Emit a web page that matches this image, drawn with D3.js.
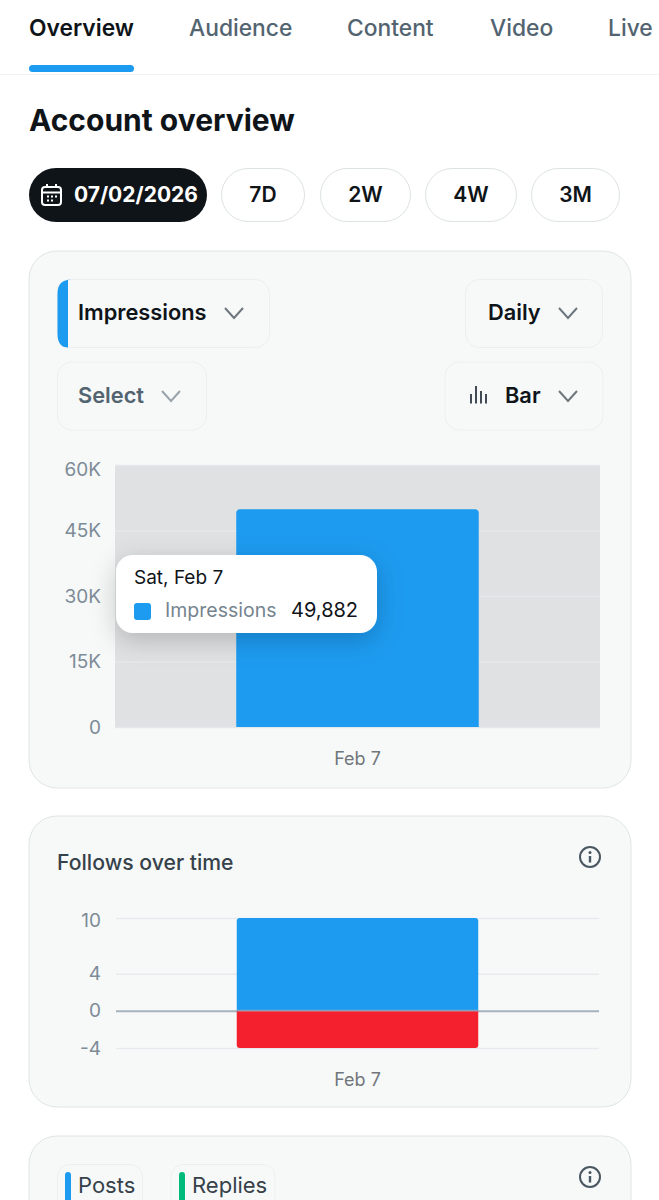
<!DOCTYPE html>
<html lang="en">
<head>
<meta charset="utf-8">
<style>
  html, body { margin: 0; background: #fff; overflow: hidden; }
  svg { display: block; font-family: Inter, "Noto Sans", sans-serif; }
</style>
</head>
<body>
<script src="https://d3js.org/d3.v7.min.js"></script>
<script>
// chart values
var dates = ['Feb 7'];
var impressions = [49882];
var impressionTicks = [0, 15000, 30000, 45000, 60000];
var follows = [10];
var unfollows = [-4];
var followTicks = [-4, 0, 4, 10];

// page text
var tabs = ['Overview', 'Audience', 'Content', 'Video', 'Live'];
var ranges = ['7D', '2W', '4W', '3M'];

var blue = '#1d9bf0', red = '#f5202e', green = '#00ba7c';
var ink = '#0f1419', slate = '#536471', border = '#dfe4e6', cardBg = '#f7f9f9';
var axisGrey = '#7d8b97';

var svg = d3.select('body').append('svg').attr('width', 659).attr('height', 1200);
var defs = svg.append('defs');
var shadow = defs.append('filter').attr('id', 'tipShadow')
  .attr('x', '-20%').attr('y', '-40%').attr('width', '140%').attr('height', '200%');
shadow.append('feDropShadow').attr('dx', 0).attr('dy', 7).attr('stdDeviation', 13)
  .attr('flood-color', '#000').attr('flood-opacity', 0.2);

function label(g, str, x, y, size, weight, fill, anchor) {
  return g.append('text').text(str).attr('x', x).attr('y', y)
    .attr('font-size', size).attr('font-weight', weight).attr('fill', fill)
    .attr('text-anchor', anchor || 'start');
}
function box(g, x, y, w, h, r, fill, stroke) {
  return g.append('rect').attr('x', x).attr('y', y).attr('width', w).attr('height', h)
    .attr('rx', r).attr('fill', fill).attr('stroke', stroke || 'none');
}
function chevron(g, cx, cy, col) {
  g.append('path').attr('d', 'M' + (cx - 9) + ' ' + (cy - 6) + 'L' + cx + ' ' + (cy + 4) + 'L' + (cx + 9) + ' ' + (cy - 6))
    .attr('fill', 'none').attr('stroke', col).attr('stroke-width', 2);
}
function infoIcon(g, cx, cy) {
  var i = g.append('g').attr('transform', 'translate(' + cx + ',' + cy + ')');
  i.append('circle').attr('r', 10).attr('fill', 'none').attr('stroke', '#4a5660').attr('stroke-width', 2);
  i.append('circle').attr('cy', -4.5).attr('r', 1.5).attr('fill', '#4a5660');
  i.append('path').attr('d', 'M0 -1V5.5').attr('stroke', '#4a5660').attr('stroke-width', 2.4);
}
// bar with only two corners rounded
function barPath(x, w, y0, y1, r) {
  var up = y1 < y0, s = up ? 1 : -1;
  return 'M' + x + ' ' + y0 + 'V' + (y1 + s * r) +
    'Q' + x + ' ' + y1 + ' ' + (x + r) + ' ' + y1 +
    'H' + (x + w - r) +
    'Q' + (x + w) + ' ' + y1 + ' ' + (x + w) + ' ' + (y1 + s * r) +
    'V' + y0 + 'Z';
}

// tabs
var tabX = [29, 189, 347, 490, 608];
var nav = svg.append('g');
tabs.forEach(function(t, i) {
  label(nav, t, tabX[i], 36, 22.8, i == 0 ? 600 : 500, i == 0 ? ink : slate);
});
box(nav, 29, 65, 105, 7, 3.5, blue);
nav.append('path').attr('d', 'M0 74.5H659').attr('stroke', '#eff3f4').attr('stroke-width', 1);

label(svg, 'Account overview', 29, 131, 30, 700, ink);

// date range pills
box(svg, 29, 168, 178, 54, 27, ink);
var cal = svg.append('g').attr('transform', 'translate(41,185)').attr('fill', 'none').attr('stroke', '#fff').attr('stroke-width', 2);
cal.append('rect').attr('x', 1).attr('y', 2).attr('width', 19).attr('height', 18).attr('rx', 3);
cal.append('path').attr('d', 'M1 7.5H20M6 -1V3M15 -1V3');
cal.append('path').attr('d', 'M6 11.5H8M10 11.5H12M14 11.5H16M6 15.5H8M10 15.5H12').attr('stroke-width', 1.8);
label(svg, '07/02/2026', 74, 202, 21, 700, '#fff');

var pillX = [221, 320, 425, 531], pillW = [84, 91, 92, 89];
ranges.forEach(function(t, i) {
  box(svg, pillX[i] + .5, 168.5, pillW[i] - 1, 53, 26.5, '#fff', '#dde2e4');
  label(svg, t, pillX[i] + pillW[i] / 2, 202, 21, 600, ink, 'middle');
});

// cards
box(svg, 29, 251, 602, 537, 28, cardBg, border);
box(svg, 29, 816, 602, 291, 28, cardBg, border);
box(svg, 29, 1136, 602, 120, 28, cardBg, border);

// dropdowns of the first card
var controlLine = '#eceff1';
box(svg, 57.5, 279.5, 212, 68, 14, cardBg, controlLine);
svg.append('path').attr('d', 'M68 279.5H71.5Q57.5 279.5 57.5 293.5V333.5Q57.5 347.5 68 347.5Z').attr('fill', blue);
label(svg, 'Impressions', 78, 320, 21.8, 600, ink);
chevron(svg, 234, 314, '#6e767d');
box(svg, 465.5, 279.5, 137, 68, 14, cardBg, controlLine);
label(svg, 'Daily', 488, 320, 21.8, 600, ink);
chevron(svg, 568, 314, '#6e767d');
box(svg, 57.5, 362, 149, 68, 14, cardBg, controlLine);
label(svg, 'Select', 78, 403, 21.8, 600, slate);
chevron(svg, 171, 397, '#9aa3ab');
box(svg, 445, 362, 158, 68, 14, cardBg, controlLine);
svg.append('path').attr('d', 'M471 394V403.5M476 386V403.5M481 391V403.5M486 394V403.5').attr('stroke', '#2f3942').attr('stroke-width', 1.8);
label(svg, 'Bar', 505, 403, 21.8, 600, ink);
chevron(svg, 568, 397, '#6e767d');

// impressions chart
var x1 = d3.scaleBand().domain(dates).range([115, 600]).paddingInner(0.5).paddingOuter(0.25);
var y1 = d3.scaleLinear().domain([0, 60000]).range([727, 465]);
var fmtK = function(d) { return d == 0 ? '0' : (d / 1000) + 'K'; };

svg.append('rect').attr('x', 115).attr('y', y1(60000)).attr('width', 485).attr('height', y1(0) - y1(60000)).attr('fill', '#dfe1e3');

var grid1 = svg.append('g').attr('transform', 'translate(115,0)')
  .call(d3.axisLeft(y1).tickValues(impressionTicks).tickSize(-485).tickFormat(fmtK));
grid1.select('.domain').remove();
grid1.selectAll('line').attr('stroke', '#e5e8ea').attr('stroke-width', 1.5);
grid1.selectAll('text').attr('x', -14).attr('font-size', 19).attr('fill', axisGrey).attr('font-family', 'Inter');
// the top label is pushed down to stay inside the plot
grid1.selectAll('.tick').filter(function(d) { return d == 60000; }).select('text').attr('dy', '0.55em');

svg.selectAll('path.impr').data(dates).enter().append('path').attr('class', 'impr')
  .attr('d', function(d, i) { return barPath(x1(d), x1.bandwidth(), y1(0), y1(impressions[i]), 4); })
  .attr('fill', blue);

svg.append('g').attr('transform', 'translate(0,727)')
  .call(d3.axisBottom(x1).tickSize(0).tickPadding(25))
  .call(function(g) { g.select('.domain').remove(); })
  .selectAll('text').attr('font-size', 18).attr('fill', '#71767b').attr('font-family', 'Inter');

// tooltip
var tip = svg.append('g');
box(tip, 116, 555, 261, 78, 17, '#fff').attr('filter', 'url(#tipShadow)');
label(tip, 'Sat, Feb 7', 134, 584, 19, 400, ink);
box(tip, 134, 603, 17, 17, 3, blue);
label(tip, 'Impressions', 165, 617, 19.5, 400, '#75848f');
label(tip, d3.format(',')(impressions[0]), 291, 617, 20, 400, ink);

// follows chart
label(svg, 'Follows over time', 57, 870, 21.2, 500, '#36414a');
infoIcon(svg, 590, 857);

var x2 = d3.scaleBand().domain(dates).range([116, 599]).paddingInner(0.5).paddingOuter(0.25);
var y2 = d3.scaleLinear().domain([-4, 10]).range([1048, 918]);

var grid2 = svg.append('g').attr('transform', 'translate(116,0)')
  .call(d3.axisLeft(y2).tickValues(followTicks).tickSize(-483).tickFormat(function(d) { return d < 0 ? '-' + (-d) : d; }));
grid2.select('.domain').remove();
grid2.selectAll('line').attr('stroke', function(d) { return d == 0 ? '#a6b2bd' : '#e7ebee'; })
  .attr('stroke-width', function(d) { return d == 0 ? 2 : 1.5; });
grid2.selectAll('text').attr('x', -15).attr('font-size', 19).attr('fill', axisGrey).attr('font-family', 'Inter');
grid2.selectAll('.tick').filter(function(d) { return d == 10; }).select('text').attr('dy', '0.47em');

svg.selectAll('path.fol').data(dates).enter().append('path').attr('class', 'fol')
  .attr('d', function(d, i) { return barPath(x2(d), x2.bandwidth(), y2(0), y2(follows[i]), 3); })
  .attr('fill', blue);
svg.selectAll('path.unf').data(dates).enter().append('path').attr('class', 'unf')
  .attr('d', function(d, i) { return barPath(x2(d), x2.bandwidth(), y2(0), y2(unfollows[i]), 3); })
  .attr('fill', red);
svg.selectAll('line.zero').data(dates).enter().append('line').attr('class', 'zero')
  .attr('x1', function(d) { return x2(d); }).attr('x2', function(d) { return x2(d) + x2.bandwidth(); })
  .attr('y1', y2(0)).attr('y2', y2(0))
  .attr('stroke', '#a6b2bd').attr('stroke-width', 2).attr('opacity', 0.55);

svg.append('g').attr('transform', 'translate(0,1048)')
  .call(d3.axisBottom(x2).tickSize(0).tickPadding(25))
  .call(function(g) { g.select('.domain').remove(); })
  .selectAll('text').attr('font-size', 18).attr('fill', '#71767b').attr('font-family', 'Inter');

// third card, cut off by the window
box(svg, 57.5, 1164.5, 85, 60, 12, cardBg, controlLine);
box(svg, 65, 1172, 6, 40, 3, blue);
label(svg, 'Posts', 78, 1193, 22, 400, '#36414a');
box(svg, 171, 1164.5, 104, 60, 12, cardBg, controlLine);
box(svg, 179, 1172, 6, 40, 3, green);
label(svg, 'Replies', 192, 1193, 22, 400, '#36414a');
infoIcon(svg, 590, 1177);
</script>
</body>
</html>
